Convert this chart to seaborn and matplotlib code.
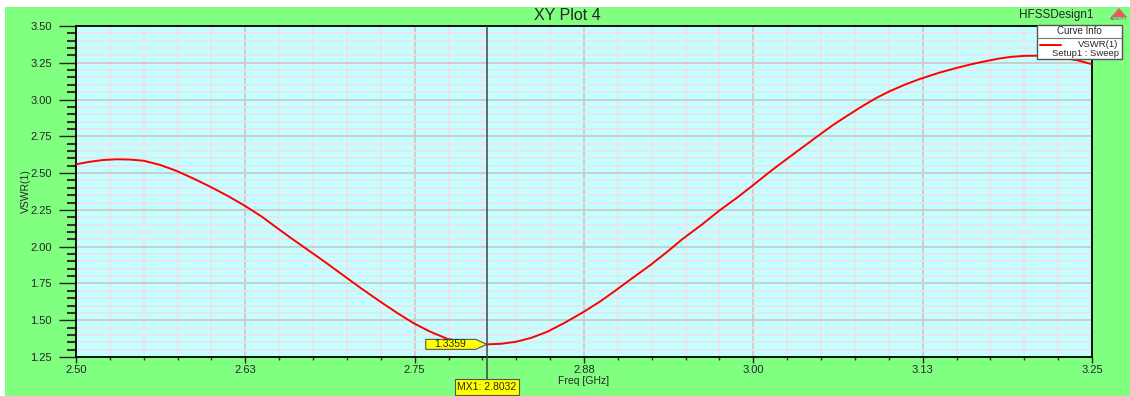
import numpy as np
import pandas as pd
import matplotlib
matplotlib.use("Agg")
import matplotlib.pyplot as plt
import seaborn as sns
from matplotlib.patches import Rectangle, Polygon
from matplotlib.lines import Line2D
from matplotlib.ticker import AutoMinorLocator

# Curve (Freq GHz, VSWR)
freq = [2.500, 2.510, 2.520, 2.530, 2.540, 2.550, 2.562, 2.574, 2.586, 2.599,
        2.612, 2.625, 2.637, 2.648, 2.660, 2.673, 2.685, 2.697, 2.710, 2.724,
        2.737, 2.749, 2.761, 2.774, 2.788, 2.8032, 2.814, 2.825, 2.836, 2.848,
        2.861, 2.875, 2.887, 2.898, 2.909, 2.924, 2.936, 2.948, 2.962, 2.975,
        2.988, 3.000, 3.012, 3.025, 3.036, 3.047, 3.059, 3.071, 3.081, 3.091,
        3.101, 3.112, 3.123, 3.137, 3.150, 3.161, 3.172, 3.181, 3.190, 3.200,
        3.209, 3.219, 3.229, 3.240, 3.250]
vswr = [2.560, 2.577, 2.589, 2.594, 2.592, 2.584, 2.556, 2.516, 2.466, 2.408,
        2.345, 2.276, 2.205, 2.130, 2.050, 1.966, 1.888, 1.807, 1.720, 1.630,
        1.550, 1.481, 1.424, 1.374, 1.346, 1.3359, 1.340, 1.354, 1.380, 1.422,
        1.484, 1.558, 1.628, 1.700, 1.775, 1.875, 1.962, 2.054, 2.150, 2.246,
        2.333, 2.419, 2.508, 2.598, 2.673, 2.748, 2.828, 2.900, 2.958, 3.012,
        3.058, 3.102, 3.140, 3.182, 3.215, 3.240, 3.262, 3.278, 3.290, 3.297,
        3.298, 3.294, 3.284, 3.265, 3.240]

xticks = [2.50, 2.625, 2.75, 2.875, 3.00, 3.125, 3.25]
xticklabels = ["2.50", "2.63", "2.75", "2.88", "3.00", "3.13", "3.25"]
yticks = [1.25, 1.50, 1.75, 2.00, 2.25, 2.50, 2.75, 3.00, 3.25, 3.50]

marker_x = 2.8032
marker_y = 1.3359

df = pd.DataFrame({"Freq": freq, "VSWR": vswr})

sns.set_style("white")
plt.rcParams['font.family'] = ['Liberation Sans', 'DejaVu Sans']

W, H = 1130, 396
fig = plt.figure(figsize=(W / 100, H / 100), dpi=100)
fig.patch.set_facecolor("white")
fig.patches.append(Rectangle((5 / W, 0), 1 - 5 / W, 1 - 7 / H, transform=fig.transFigure,
                             facecolor="#80FF80", edgecolor="none", zorder=-10))


def fx(x):
    return x / W


def fy(y):
    return 1 - y / H


AX_L, AX_R = 76, 1092
ax = fig.add_axes([fx(AX_L), fy(357), fx(AX_R) - fx(AX_L), fy(26) - fy(357)])
ax.set_facecolor("#C4FFFF")

sns.lineplot(data=df, x="Freq", y="VSWR", ax=ax, color="#FF0000", lw=1.4,
             estimator=None, sort=False, zorder=3)

ax.set_xlim(2.5, 3.25)
ax.set_ylim(1.25, 3.5)
ax.set_xticks(xticks)
ax.set_xticklabels(xticklabels)
ax.set_yticks(yticks)
ax.set_yticklabels([f"{v:.2f}" for v in yticks])
ax.xaxis.set_minor_locator(AutoMinorLocator(5))
ax.yaxis.set_minor_locator(AutoMinorLocator(5))

ax.grid(which="minor", color="#EEE2EA", lw=1.2, zorder=0)
ax.grid(which="major", color="#CDCDCD", lw=1.4, zorder=0)
ax.set_axisbelow(True)

ax.tick_params(axis="y", which="both", left=True)
ax.tick_params(axis="x", which="both", bottom=True)
ax.tick_params(axis="y", which="major", length=12, width=1.0, color="#222222",
               labelsize=8, pad=5.5)
ax.tick_params(axis="y", which="minor", length=6.5, width=1.5, color="#333333")
ax.tick_params(axis="x", which="major", length=4, width=1.0, color="#222222",
               labelsize=8, pad=1.5)
ax.tick_params(axis="x", which="minor", length=2, width=1.0, color="#333333")
for s in ax.spines.values():
    s.set_visible(True)
    s.set_color("black")
    s.set_linewidth(1.3)

ax.set_xlabel("Freq [GHz]", fontsize=7.5, labelpad=1)
ax.set_ylabel("VSWR(1)", fontsize=7.5, labelpad=0)
ax.yaxis.set_label_coords((31 - AX_L) / (AX_R - AX_L), 0.5)

# marker line
ax.axvline(marker_x, color="#444444", lw=1.1, zorder=4)
ax.plot([marker_x, marker_x], [1.25, 1.25 - 0.25], color="#444444", lw=1.1,
        clip_on=False, zorder=4)

# marker value flag (pentagon pointing at the curve)
tr = ax.transData
px, py = tr.transform((marker_x, marker_y))
inv = fig.transFigure.inverted()
pts_px = [(px - 61, py - 5), (px - 11, py - 5), (px, py), (px - 11, py + 5), (px - 61, py + 5)]
flag = Polygon([inv.transform(p) for p in pts_px], closed=True, transform=fig.transFigure,
               facecolor="#FFFF00", edgecolor="#555555", lw=0.8, zorder=6)
fig.patches.append(flag)
fig.text(*inv.transform((px - 37, py)), f"{marker_y:.4f}", fontsize=7.5, ha="center",
         va="center", zorder=7)

fig.text(fx(487), fy(387), f"MX1: {marker_x:.4f}", fontsize=7.5,
         ha="center", va="center", zorder=7,
         bbox=dict(boxstyle="square,pad=0.25", facecolor="#FFFF00", edgecolor="#555555", lw=0.8))

# titles
fig.text(fx(567), fy(15), "XY Plot 4", fontsize=11.5, ha="center", va="center")
fig.text(fx(1093), fy(15), "HFSSDesign1", fontsize=8.5, ha="right", va="center")
fig.patches.append(Polygon([(fx(1111), fy(17)), (fx(1119), fy(8)), (fx(1127), fy(17))],
                           closed=True, transform=fig.transFigure,
                           facecolor="#E06060", edgecolor="none"))
fig.text(fx(1119), fy(19), "ANSOFT", fontsize=3.2, ha="center", va="center", color="#555555")

# curve info box
fig.patches.append(Rectangle((fx(1037), fy(59)), fx(1122) - fx(1037), fy(25) - fy(59),
                             transform=fig.transFigure, facecolor="white",
                             edgecolor="#555555", lw=1.0, zorder=5))
fig.lines.append(Line2D([fx(1037), fx(1122)], [fy(38), fy(38)], transform=fig.transFigure,
                        color="#777777", lw=0.8, zorder=6))
fig.text(fx(1079), fy(31.5), "Curve Info", fontsize=7, ha="center", va="center", zorder=7)
fig.lines.append(Line2D([fx(1040), fx(1061)], [fy(44.5), fy(44.5)], transform=fig.transFigure,
                        color="#FF0000", lw=1.4, zorder=7))
fig.text(fx(1118), fy(44.5), "VSWR(1)", fontsize=6.8, ha="right", va="center", zorder=7)
fig.text(fx(1119), fy(53), "Setup1 : Sweep", fontsize=6.8, ha="right", va="center", zorder=7)

fig.savefig("out.png", dpi=100, facecolor=fig.get_facecolor())
